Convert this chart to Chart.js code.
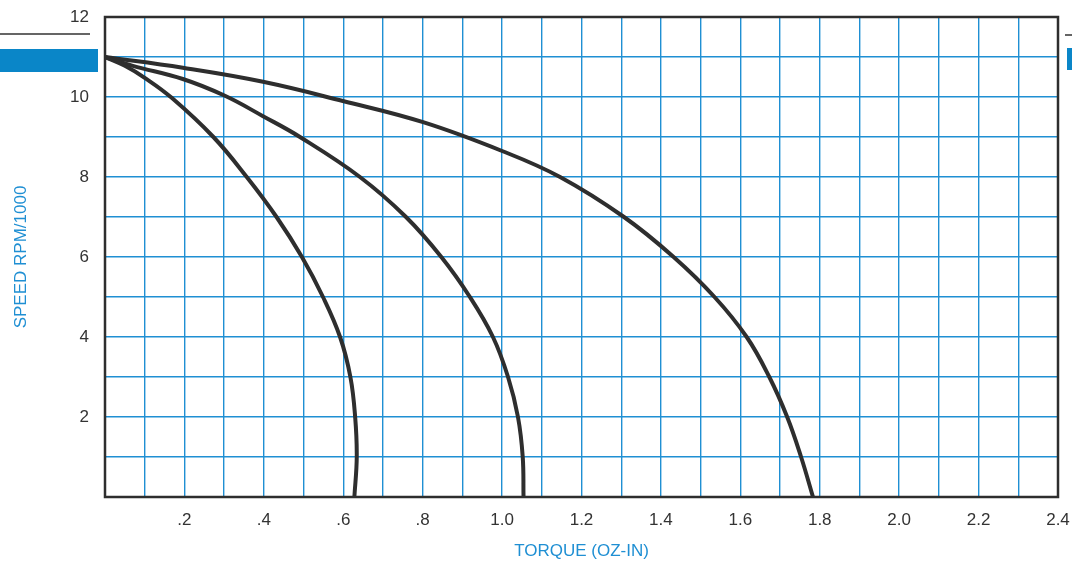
<!DOCTYPE html>
<html>
<head>
<meta charset="utf-8">
<script src="https://cdn.jsdelivr.net/npm/chart.js@4"></script>
<style>
  body { margin: 0; background: #fff; }
  canvas { display: block; }
</style>
</head>
<body>
<canvas id="torqueChart" width="1072" height="566"></canvas>
<script>
// torque (oz-in) / speed (rpm/1000)
const curveInner = [
    [0, 11], [0.05, 10.78], [0.10, 10.48], [0.168, 9.98], [0.273, 9.0],
    [0.357, 8.0], [0.432, 7.0], [0.496, 6.0], [0.549, 5.0], [0.592, 4.0],
    [0.618, 3.0], [0.630, 2.0], [0.634, 1.0], [0.628, 0]
];
const curveMiddle = [
    [0, 11], [0.07, 10.78], [0.196, 10.45], [0.302, 10.03], [0.398, 9.52],
    [0.491, 9.0], [0.642, 8.0], [0.758, 7.0], [0.847, 6.0], [0.919, 5.0],
    [0.977, 4.0], [1.015, 3.0], [1.040, 2.0], [1.052, 1.0], [1.054, 0]
];
const curveOuter = [
    [0, 11], [0.196, 10.73], [0.398, 10.38], [0.599, 9.90], [0.801, 9.37],
    [1.0, 8.65], [1.146, 8.0], [1.307, 7.0], [1.432, 6.0], [1.535, 5.0],
    [1.616, 4.0], [1.673, 3.0], [1.718, 2.0], [1.753, 1.0], [1.783, 0]
];
const xTickLabels = ['.2', '.4', '.6', '.8', '1.0', '1.2', '1.4', '1.6', '1.8', '2.0', '2.2', '2.4'];
const yTickLabels = ['2', '4', '6', '8', '10', '12'];

const blue = '#1f8fd3';
const ink = '#2e2e2e';

const toPoints = arr => arr.map(p => ({ x: p[0], y: p[1] }));

// frame on all four sides + the page strips left/right of the graph
const framePlugin = {
    id: 'frame',
    beforeDraw(chart) {
        const c = chart.ctx;
        c.save();
        c.fillStyle = '#0a86c8';
        c.fillRect(0, 49, 98, 23);
        c.fillRect(1067, 48, 5, 22);
        c.strokeStyle = '#333';
        c.lineWidth = 1.5;
        c.beginPath();
        c.moveTo(0, 34); c.lineTo(90, 34);
        c.moveTo(1065, 35); c.lineTo(1072, 35);
        c.stroke();
        c.restore();
    },
    afterDatasetsDraw(chart) {
        const a = chart.chartArea;
        const c = chart.ctx;
        c.save();
        c.strokeStyle = ink;
        c.lineWidth = 2.5;
        c.strokeRect(a.left, a.top, a.right - a.left, a.bottom - a.top);
        c.restore();
    }
};

const lineStyle = {
    showLine: true,
    borderColor: ink,
    borderWidth: 4,
    pointRadius: 0,
    tension: 0.4,
    borderCapStyle: 'round',
    borderJoinStyle: 'round',
    fill: false
};

new Chart(document.getElementById('torqueChart'), {
    type: 'scatter',
    data: {
        datasets: [
            { ...lineStyle, data: toPoints(curveInner) },
            { ...lineStyle, data: toPoints(curveMiddle) },
            { ...lineStyle, data: toPoints(curveOuter) }
        ]
    },
    options: {
        responsive: false,
        animation: false,
        layout: { padding: { top: 17, right: 14, left: 0, bottom: 0 } },
        plugins: {
            legend: { display: false },
            tooltip: { enabled: false }
        },
        scales: {
            x: {
                type: 'linear',
                min: 0,
                max: 2.4,
                afterFit: s => {
                    s.height = 69;
                    s.paddingLeft = 0;
                    s.paddingRight = 0;
                },
                afterBuildTicks: s => {
                    s.ticks = [];
                    for (let i = 0; i <= 24; i++) s.ticks.push({ value: i / 10 });
                },
                grid: { color: blue, lineWidth: 1.4, drawTicks: false },
                border: { display: false },
                ticks: {
                    padding: 13,
                    color: '#333',
                    font: { family: 'Liberation Sans', size: 17 },
                    maxRotation: 0,
                    autoSkip: false,
                    callback: v => {
                        const i = Math.round(v * 10);
                        return (i > 0 && i % 2 === 0) ? xTickLabels[i / 2 - 1] : '';
                    }
                },
                title: {
                    display: true,
                    text: 'TORQUE (OZ-IN)',
                    color: blue,
                    font: { family: 'Liberation Sans', size: 17 },
                    padding: { top: 19 }
                }
            },
            y: {
                type: 'linear',
                min: 0,
                max: 12,
                afterFit: s => {
                    s.width = 105;
                    s.paddingTop = 0;
                    s.paddingBottom = 0;
                },
                grid: { color: blue, lineWidth: 1.4, drawTicks: false },
                border: { display: false },
                ticks: {
                    stepSize: 1,
                    padding: 16,
                    color: '#333',
                    font: { family: 'Liberation Sans', size: 17 },
                    autoSkip: false,
                    callback: v => {
                        const i = Math.round(v);
                        return (i > 0 && i % 2 === 0) ? yTickLabels[i / 2 - 1] : '';
                    }
                },
                title: {
                    display: true,
                    text: 'SPEED RPM/1000',
                    color: blue,
                    font: { family: 'Liberation Sans', size: 17 },
                    padding: { top: 11, bottom: 4 }
                }
            }
        }
    },
    plugins: [framePlugin]
});
</script>
</body>
</html>
